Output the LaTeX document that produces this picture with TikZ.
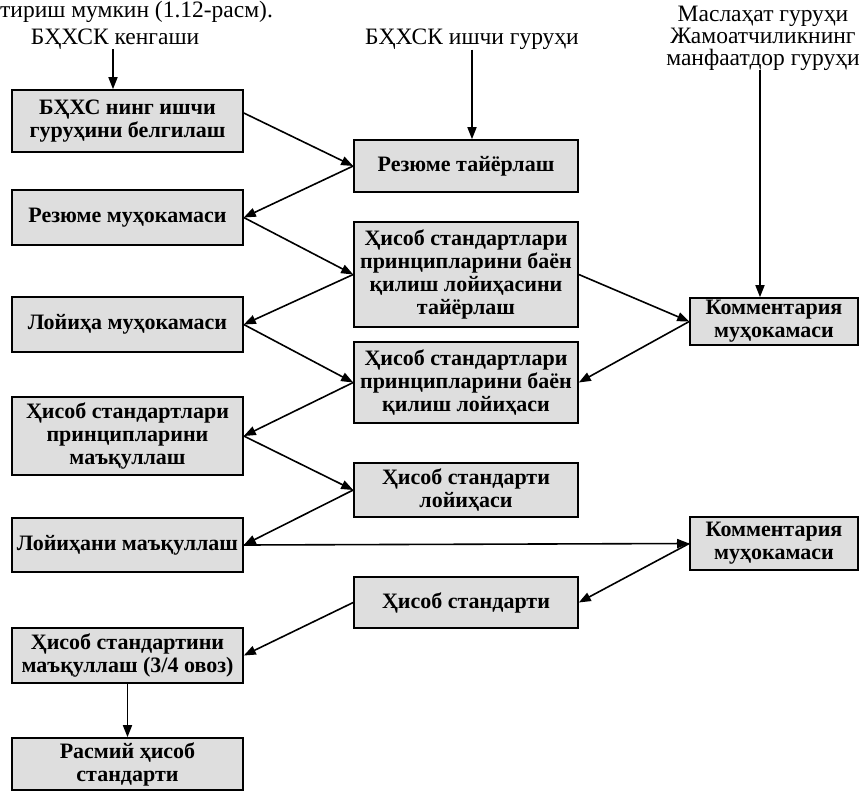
\documentclass[tikz,border=0pt]{standalone}
\usepackage{fontspec}
\setmainfont{Liberation Serif}
\usetikzlibrary{arrows.meta}
\begin{document}
\begin{tikzpicture}[x=1pt,y=-1pt,
  box/.style={draw=black, line width=1.6pt, fill=black!13, inner sep=0pt, align=center,
    font=\bfseries\fontsize{22}{23}\selectfont},
  lbox/.style={box, minimum width=231pt},
  mbox/.style={box, minimum width=224pt},
  rbox/.style={box, minimum width=168pt},
  lab/.style={align=center, inner sep=0pt, font=\fontsize{23.5}{22}\selectfont},
  arr/.style={line width=1.6pt, -{Triangle[length=12pt,width=9pt]}}]
\useasboundingbox (0,0) rectangle (859,792);
% text line at top
\node[lab, anchor=base west] (top) at (0,18) {тириш мумкин (1.12-расм).};
% top labels
\node[lab] (kengash) at (115,39) {БҲХСК кенгаши};
\node[lab] (ishchi) at (472,39) {БҲХСК ишчи гуруҳи};
\node[lab] (maslahat) at (763,38) {Маслаҳат гуруҳи\\Жамоатчиликнинг\\манфаатдор гуруҳи};
% left column
\node[lbox, minimum height=62pt] (L1) at (127.5,121) {БҲХС нинг ишчи\\гуруҳини белгилаш};
\node[lbox, minimum height=55pt] (L2) at (127.5,217.5) {Резюме муҳокамаси};
\node[lbox, minimum height=55pt] (L3) at (127.5,324.5) {Лойиҳа муҳокамаси};
\node[lbox, minimum height=78pt] (L4) at (127.5,436) {Ҳисоб стандартлари\\принципларини\\маъқуллаш};
\node[lbox, minimum height=54pt] (L5) at (127.5,545) {Лойиҳани маъқуллаш};
\node[lbox, minimum height=55pt] (L6) at (127.5,655.5) {Ҳисоб стандартини\\маъқуллаш (3/4 овоз)};
\node[lbox, minimum height=52pt] (L7) at (127.5,764) {Расмий ҳисоб\\стандарти};
% middle column
\node[mbox, minimum height=52pt] (Ma) at (466,166) {Резюме тайёрлаш};
\node[mbox, minimum height=105pt] (Mb) at (466,274.5) {Ҳисоб стандартлари\\принципларини баён\\қилиш лойиҳасини\\тайёрлаш};
\node[mbox, minimum height=81pt] (Mc) at (466,382.5) {Ҳисоб стандартлари\\принципларини баён\\қилиш лойиҳаси};
\node[mbox, minimum height=54pt] (Md) at (466,490) {Ҳисоб стандарти\\лойиҳаси};
\node[mbox, minimum height=51pt] (Me) at (466,602.5) {Ҳисоб стандарти};
% right column
\node[rbox, minimum height=47pt] (R1) at (774,321.5) {Комментария\\муҳокамаси};
\node[rbox, minimum height=53pt] (R2) at (774,543.5) {Комментария\\муҳокамаси};
% arrows
\draw[arr] ([xshift=-2pt]kengash.south) -- ([xshift=-2pt]kengash.south |- L1.north);
\draw[arr] (ishchi.south) -- (ishchi.south |- Ma.north);
\draw[arr] ([xshift=-14pt]R1.north |- maslahat.south) -- ([xshift=-14pt]R1.north);
\draw[arr] ([yshift=8pt]L1.east) -- (Ma.west);
\draw[arr] (Ma.west) -- (L2.east);
\draw[arr] (L2.east) -- (Mb.west);
\draw[arr] (Mb.west) -- (L3.east);
\draw[arr] (L3.east) -- (Mc.west);
\draw[arr] (Mc.west) -- (L4.east);
\draw[arr] (L4.east) -- (Md.west);
\draw[arr] (Md.west) -- (L5.east);
\draw[arr] (Mb.east) -- (R1.west);
\draw[arr] (R1.west) -- (Mc.east);
\draw[arr] (L5.east) -- (R2.west);
\draw[arr] (R2.west) -- (Me.east);
\draw[arr] (Me.west) -- (L6.east);
\draw[arr] (L6.south) -- (L7.north);
\end{tikzpicture}
\end{document}
